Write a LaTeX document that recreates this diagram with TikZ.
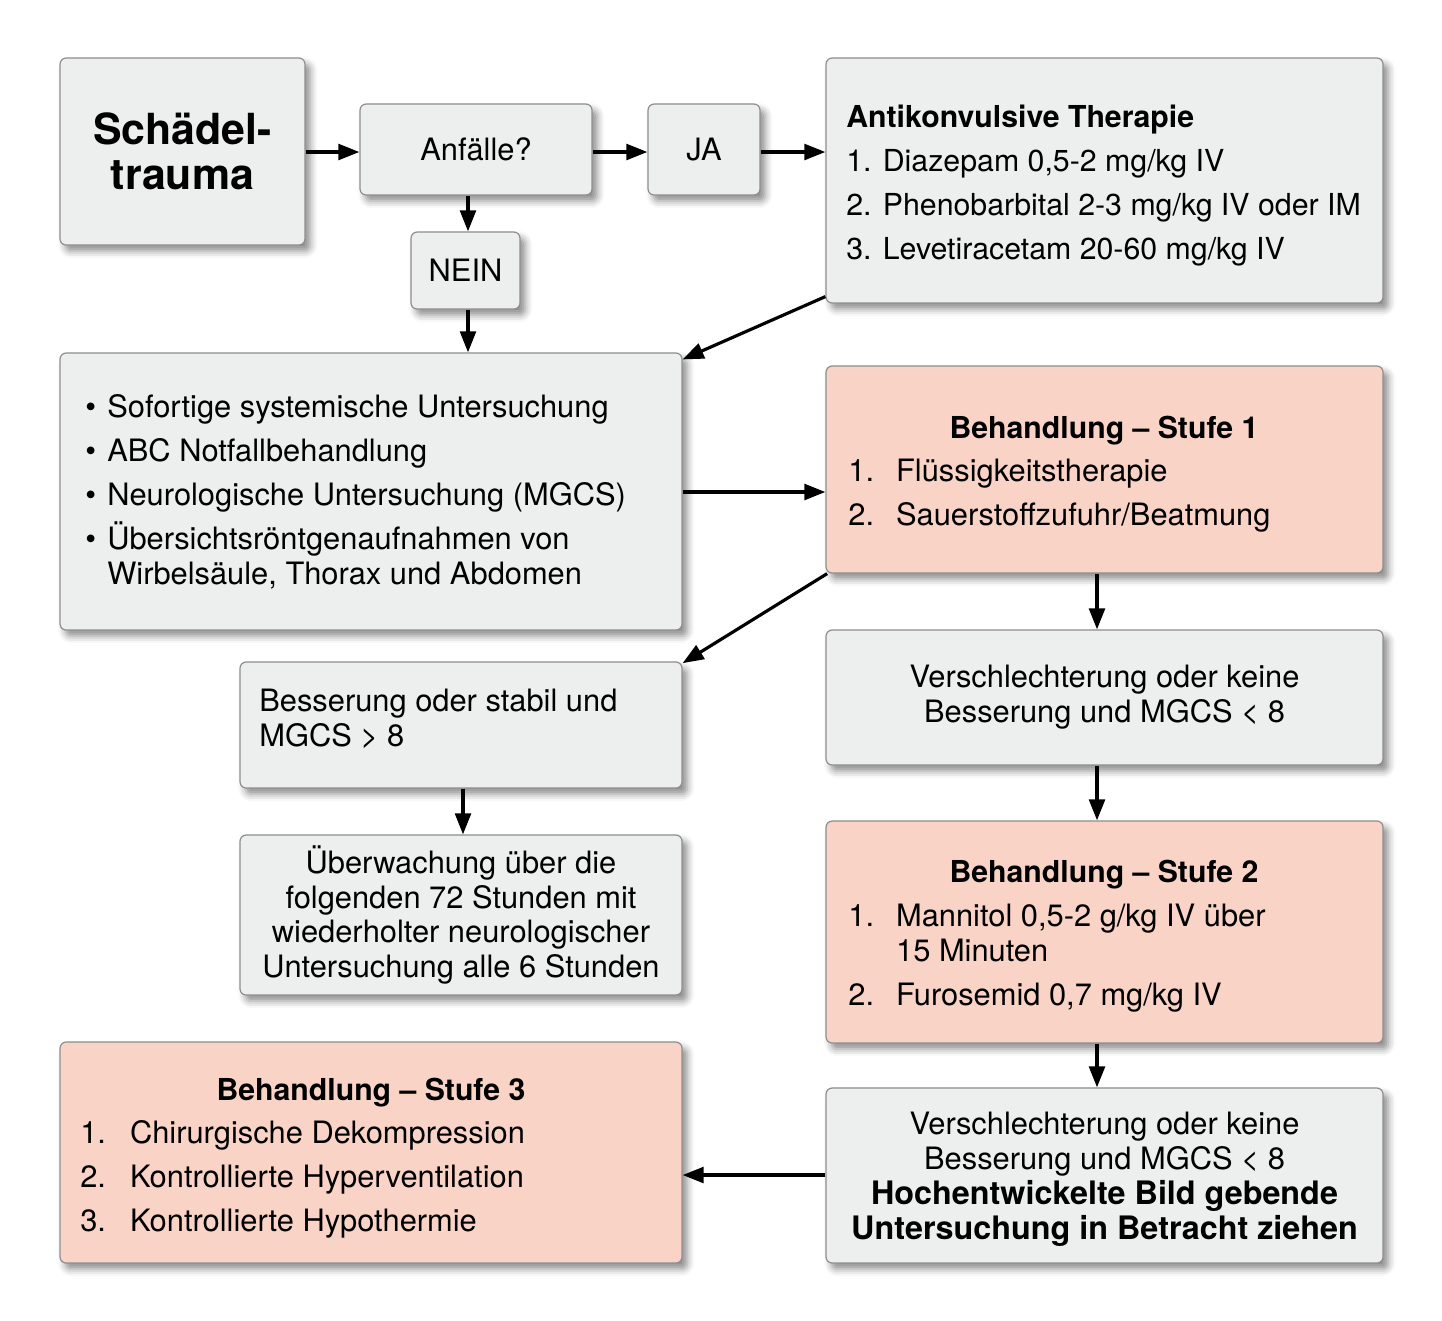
\documentclass[tikz,border=0pt]{standalone}
\usepackage{fontspec}
\setmainfont{TeX Gyre Heros}
\usetikzlibrary{arrows.meta,shadows.blur}
\definecolor{boxgray}{HTML}{EDEEEE}
\definecolor{boxpink}{HTML}{F8D3C6}
\definecolor{boxline}{HTML}{8E8E8E}
\newcommand{\fs}{\fontsize{17.55}{19.85}\selectfont}
\newcommand{\fsl}{\fontsize{17.55}{24.95}\selectfont}
\newcommand{\fsa}{\fontsize{17.25}{24.95}\selectfont}
\newcommand{\fsb}{\fontsize{17.2}{19.85}\selectfont\bfseries}
\newcommand{\fsbb}{\fontsize{18.4}{19.85}\selectfont\bfseries}
\begin{document}
\begin{tikzpicture}[x=0.02cm,y=-0.02cm,
  box/.style={draw=boxline, line width=0.7pt, fill=boxgray, rounded corners=3.5pt,
    blur shadow={shadow xshift=3pt, shadow yshift=-3.5pt, shadow blur radius=4pt, shadow opacity=45},
    font=\fs, inner sep=0pt, align=center},
  pink/.style={box, fill=boxpink},
  sz/.style 2 args={minimum width=#1*0.02cm, minimum height=#2*0.02cm},
  txt/.style={inner sep=0pt, align=left, font=\fs, anchor=base west},
  txtl/.style={inner sep=0pt, align=left, font=\fsl, anchor=base west},
  ttl/.style={inner sep=0pt, font=\fsb, anchor=base},
  arr/.style={-{Triangle[length=12pt,width=9pt]}, line width=1.8pt}]
\useasboundingbox (0,0) rectangle (1442,1320);

% boxes
\node[box, sz={245}{187}, font=\fontsize{24.4}{25.5}\selectfont\bfseries] (trauma) at (182.5,151.5) {Schädel-\\trauma};
\node[box, sz={232}{91}] (anf) at (476,149.5) {Anfälle?};
\node[box, sz={112}{91}] (ja) at (704,149.5) {JA};
\node[box, sz={557}{245}] (anti) at (1104.5,180.5) {};
\node[box, sz={109}{77}] (nein) at (465.5,270.5) {NEIN};
\node[box, sz={622}{277}] (exam) at (371,491.5) {};
\node[pink, sz={557}{207}] (st1) at (1104.5,469.5) {};
\node[box, sz={442}{126}] (bess) at (461,725) {};
\node[box, sz={557}{135}] (v1) at (1104.5,697.5) {Verschlechterung oder keine\\Besserung und MGCS < 8};
\node[box, sz={442}{160}] (ueber) at (461,915) {Überwachung über die\\folgenden 72 Stunden mit\\wiederholter neurologischer\\Untersuchung alle 6 Stunden};
\node[pink, sz={557}{222}] (st2) at (1104.5,932) {};
\node[pink, sz={622}{221}] (st3) at (371,1152.5) {};
\node[box, sz={557}{175}] (v2) at (1104.5,1175.5) {};
\node[inner sep=0pt, font=\fs, align=center] (v2T) at (1104.5,1179.5) {Verschlechterung oder keine\\Besserung und MGCS < 8\\{\fsbb Hochentwickelte Bild gebende}\\{\fsbb Untersuchung in Betracht ziehen}};

% texts (anchored at the baseline of the last line)
\node[inner sep=0pt, align=left, font=\fsa, anchor=base west] (antiT) at (846,259) {{\fsb Antikonvulsive Therapie}\\1. Diazepam 0,5-2 mg/kg IV\\2. Phenobarbital 2-3 mg/kg IV oder IM\\3. Levetiracetam 20-60 mg/kg IV};
\node[txt] (examT) at (85,584) {\makebox[12.5pt][l]{•}Sofortige systemische Untersuchung\\[5.1pt]
\makebox[12.5pt][l]{•}ABC Notfallbehandlung\\[5.1pt]
\makebox[12.5pt][l]{•}Neurologische Untersuchung (MGCS)\\[5.1pt]
\makebox[12.5pt][l]{•}Übersichtsröntgenaufnahmen von\\
\hspace*{12.5pt}Wirbelsäule, Thorax und Abdomen};
\node[ttl] (st1H) at (1104,438) {Behandlung – Stufe 1};
\node[txtl] (st1T) at (848,525) {\makebox[27.2pt][l]{1.}Flüssigkeitstherapie\\\makebox[27.2pt][l]{2.}Sauerstoffzufuhr/Beatmung};
\node[txt] (bessT) at (259,746) {Besserung oder stabil und\\MGCS > 8};
\node[ttl] (st2H) at (1104,882) {Behandlung – Stufe 2};
\node[txt] (st2T) at (848,1005) {\makebox[27.2pt][l]{1.}Mannitol 0,5-2 g/kg IV über\\\hspace*{27.2pt}15 Minuten\\[5.1pt]\makebox[27.2pt][l]{2.}Furosemid 0,7 mg/kg IV};
\node[ttl] (st3H) at (371,1100) {Behandlung – Stufe 3};
\node[txtl] (st3T) at (80,1231) {\makebox[28.3pt][l]{1.}Chirurgische Dekompression\\\makebox[28.3pt][l]{2.}Kontrollierte Hyperventilation\\\makebox[28.3pt][l]{3.}Kontrollierte Hypothermie};

% arrows
\draw[arr] (trauma.east |- 0,152) -- (anf.west |- 0,152);
\draw[arr] (anf.east |- 0,152) -- (ja.west |- 0,152);
\draw[arr] (ja.east |- 0,152) -- (anti.west |- 0,152);
\draw[arr] (468,0 |- anf.south) -- (468,0 |- nein.north);
\draw[arr] (468,0 |- nein.south) -- (468,0 |- exam.north);
\draw[arr] ([yshift=4pt]anti.south west) -- ([yshift=-4pt]exam.north east);
\draw[arr] (exam.east |- 0,492) -- (st1.west |- 0,492);
\draw[arr] ([xshift=1pt]st1.south west) -- ([yshift=-1pt]bess.north east);
\draw[arr] (1097,0 |- st1.south) -- (1097,0 |- v1.north);
\draw[arr] (463,0 |- bess.south) -- (463,0 |- ueber.north);
\draw[arr] (1097,0 |- v1.south) -- (1097,0 |- st2.north);
\draw[arr] (1097,0 |- st2.south) -- (1097,0 |- v2.north);
\draw[arr] (v2.west |- 0,1175) -- (st3.east |- 0,1175);
\end{tikzpicture}
\end{document}
